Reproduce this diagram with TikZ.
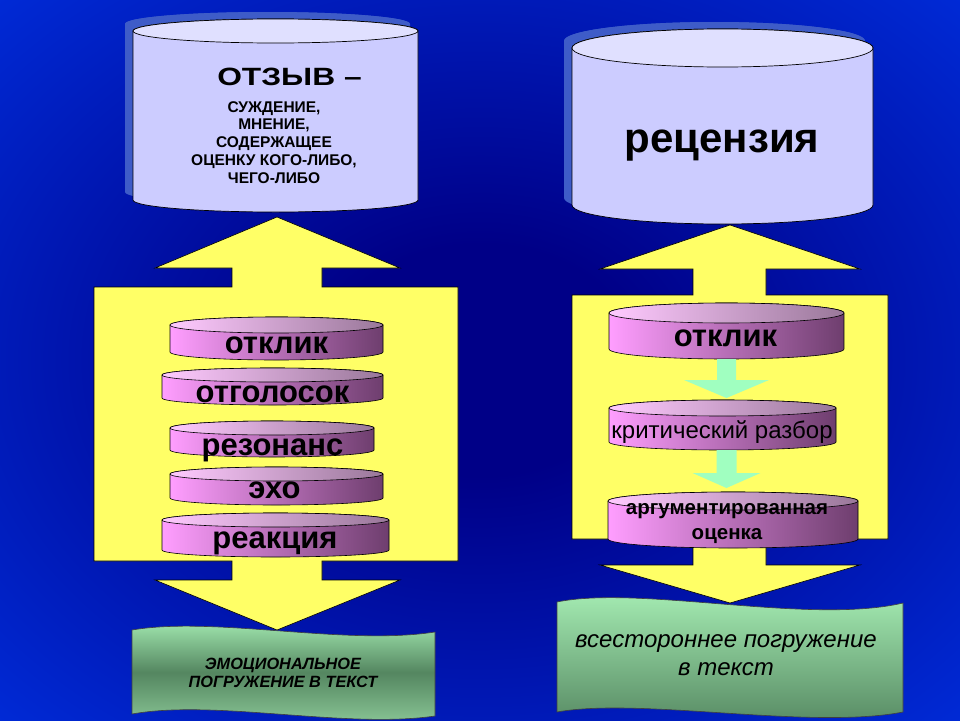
\documentclass[tikz,border=0pt]{standalone}
\usepackage{fontspec}
\setmainfont{Liberation Sans}
\usepackage{graphicx}
\usetikzlibrary{calc}

\definecolor{edgeBlue}{RGB}{0,64,255}
\definecolor{deepBlue}{RGB}{0,0,135}
\definecolor{cylShadow}{RGB}{62,92,200}
\definecolor{cylLav}{RGB}{204,204,255}
\definecolor{cylLavTop}{RGB}{224,224,255}
\definecolor{pinkL}{RGB}{255,158,255}
\definecolor{pinkR}{RGB}{110,62,110}
\definecolor{paleYellow}{RGB}{255,255,102}
\definecolor{mintGreen}{RGB}{160,255,192}
\definecolor{leafL}{RGB}{168,240,182}
\definecolor{leafD}{RGB}{84,134,96}

\pgfdeclareradialshading{slidebg}{\pgfpoint{0bp}{0bp}}{color(0bp)=(deepBlue); color(8bp)=(deepBlue); color(50bp)=(edgeBlue)}

% drum: kind, name, centre x, top y, bottom y, half width, y radius
\newcommand\drum[7]{%
  \path[#1body] ({#3-#6},#4) -- ({#3-#6},#5)
    arc[start angle=180, end angle=0, x radius=#6, y radius=#7]
    -- ({#3+#6},#4)
    arc[start angle=0, end angle=-180, x radius=#6, y radius=#7] -- cycle;
  \path[#1top] (#3,#4) ellipse[x radius=#6, y radius=#7];
  \coordinate (#2-top) at (#3,{#4-#7});
  \coordinate (#2-bot) at (#3,{#5+#7});
}

% block arrow: from, to, half shaft, half head, head length
\newcommand\steparrow[5]{%
  \fill[mintGreen] ($(#1)+(-#3,0)$) -- ($(#2)+(-#3,-#5)$) -- ($(#2)+(-#4,-#5)$) -- (#2)
    -- ($(#2)+(#4,-#5)$) -- ($(#2)+(#3,-#5)$) -- ($(#1)+(#3,0)$) -- cycle;
}

\begin{document}
\begin{tikzpicture}[x=1pt, y=-1pt,
  shadowbody/.style={fill=cylShadow}, shadowtop/.style={fill=cylShadow},
  lavbody/.style={fill=cylLav, draw=black, line width=0.7pt},
  lavtop/.style={fill=cylLavTop, draw=black, line width=0.7pt},
  pinkbody/.style={left color=pinkL, right color=pinkR, draw=black, line width=0.6pt},
  pinktop/.style={left color=pinkL!55!white, right color=pinkR!70!white, draw=black, line width=0.6pt},
  bigarrow/.style={fill=paleYellow, draw=black, line width=0.6pt},
  banner/.style={draw=black!75, line width=0.6pt},
  word/.style={font=\bfseries\fontsize{31}{33}\selectfont, anchor=base, inner sep=0pt},
]
\useasboundingbox (0,0) rectangle (960,720);
\shade[shading=slidebg] (0,0) rectangle (960,720);

% upper cylinders
\drum{shadow}{lsh}{267.5}{24}{192}{142.5}{12}
\drum{lav}{lcyl}{275.5}{31}{200}{142.5}{12}
\drum{shadow}{rsh}{714.5}{41}{198}{150.5}{19}
\drum{lav}{rcyl}{722.5}{48}{205}{150.5}{19}

\node[anchor=base, inner sep=0pt, font=\bfseries\fontsize{25}{28}\selectfont] (otzyv) at (289.5,85) {\scalebox{1.27}[1]{ОТЗЫВ –}};
\node[anchor=north, inner sep=0pt, align=center, font=\bfseries\fontsize{15.5}{17.8}\selectfont] (otzyvdef) at (274,101)
  {СУЖДЕНИЕ,\\МНЕНИЕ,\\СОДЕРЖАЩЕЕ\\ОЦЕНКУ КОГО-ЛИБО,\\ЧЕГО-ЛИБО};
\node[anchor=base, inner sep=0pt, font=\bfseries\fontsize{42}{46}\selectfont] (recenz) at (722,152) {рецензия};

% yellow frames
\draw[bigarrow] (277,217) -- (400,268) -- (322,268) -- (322,287) -- (458,287) -- (458,561)
  -- (322,561) -- (322,580) -- (400,580) -- (277,630) -- (155,580) -- (232,580) -- (232,561)
  -- (94,561) -- (94,287) -- (232,287) -- (232,268) -- (155,268) -- cycle;
\draw[bigarrow] (730,225) -- (860,269) -- (766,269) -- (766,295) -- (888,295) -- (888,539)
  -- (766,539) -- (766,565) -- (860,565) -- (730,603) -- (600,565) -- (693,565) -- (693,539)
  -- (572,539) -- (572,295) -- (693,295) -- (693,269) -- (600,269) -- cycle;

% left stack
\drum{pink}{lotk}{276.5}{325}{352}{106.5}{8}
\node[word] (lotklik) at (276.5,353) {отклик};
\drum{pink}{lotg}{272.5}{375}{398}{110.5}{7}
\node[word] (lotgolosok) at (272.5,402) {отголосок};
\drum{pink}{lrez}{272}{428}{450}{102}{7}
\node[word] (lrezonans) at (272.5,455) {резонанс};
\drum{pink}{lexo}{276.5}{474}{498}{106.5}{7}
\node[word] (lexo) at (274.5,498) {эхо};
\drum{pink}{lrea}{275.5}{520}{550}{113.5}{7}
\node[word] (lreakciya) at (275,548) {реакция};

% right stack
\drum{pink}{rotk}{726.5}{313}{349}{117.5}{10}
\node[word] (rotklik) at (725.5,346) {отклик};
\drum{pink}{rkrit}{722.5}{408}{442}{113.5}{8}
\node[anchor=base, inner sep=0pt, font=\fontsize{24}{26}\selectfont] (rkritika) at (722,438) {критический разбор};
\drum{pink}{rarg}{733}{501}{539}{125}{9}
\node[anchor=north, inner sep=0pt, align=center, font=\bfseries\fontsize{20.5}{25}\selectfont] (rocenka) at (727,503.5)
  {аргументированная\\оценка};

\coordinate (a1s) at (rotk-bot);
\coordinate (a1e) at ([yshift=2pt]rkrit-top -| rotk-bot);
\coordinate (a2s) at (rkrit-bot -| rotk-bot);
\coordinate (a2e) at ([yshift=4pt]rarg-top -| rotk-bot);
\steparrow{a1s}{a1e}{9.5}{42.5}{18}
\steparrow{a2s}{a2e}{10}{34}{15}

% banners
\path[banner, top color=leafL, bottom color=leafL!85!black, middle color=leafD]
  (132,630) .. controls (215,616) and (345,646) .. (435,632) -- (435,716)
  .. controls (345,729) and (215,699) .. (132,714) -- cycle;
\node[anchor=north, inner sep=0pt, align=center, font=\bfseries\itshape\fontsize{16.3}{18}\selectfont] (lemo) at (283,658)
  {ЭМОЦИОНАЛЬНОЕ\\ПОГРУЖЕНИЕ В ТЕКСТ};
\path[banner, top color=leafL, bottom color=leafD]
  (557,602) .. controls (640,585) and (810,625) .. (903,603) -- (903,712)
  .. controls (810,730) and (640,697) .. (557,712) -- cycle;
\node[anchor=north, inner sep=0pt, align=center, font=\itshape\fontsize{24}{28}\selectfont] (rall) at (726,634)
  {всестороннее погружение\\в текст};
\end{tikzpicture}
\end{document}
